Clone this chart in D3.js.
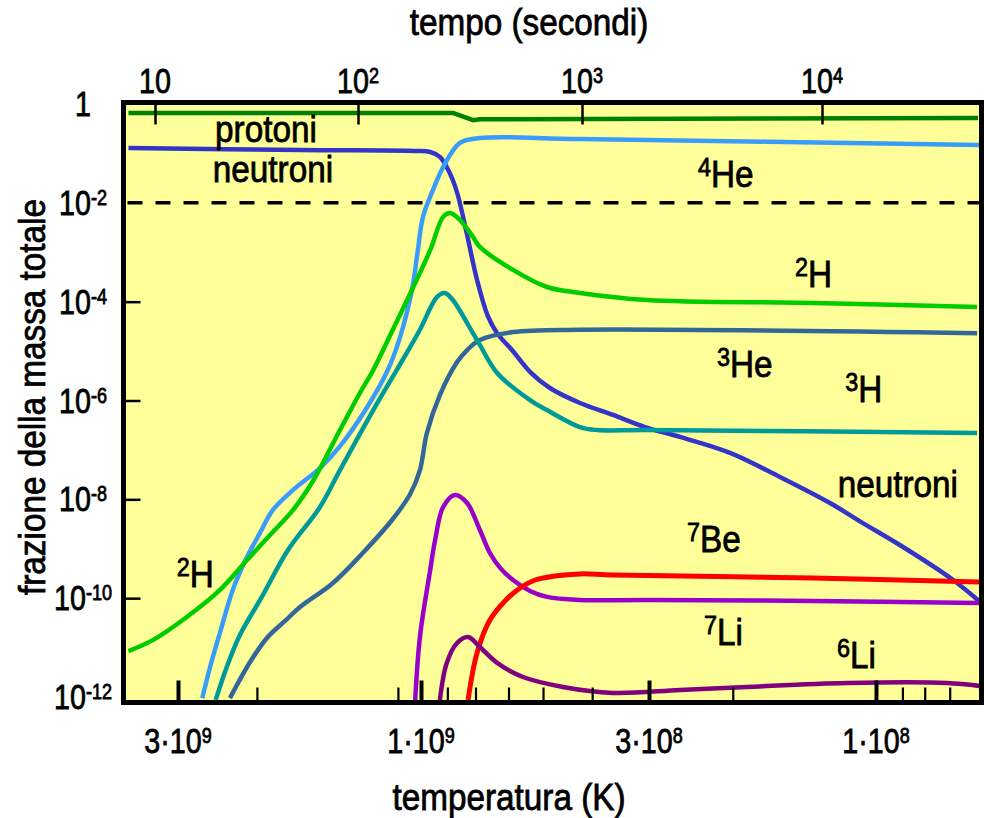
<!DOCTYPE html>
<html><head><meta charset="utf-8">
<script src="https://cdn.jsdelivr.net/npm/d3@7/dist/d3.min.js"></script>
<style>
body{margin:0;background:#fff;}
text{font-family:"Liberation Sans", Arial, Helvetica, sans-serif; fill:#000; stroke:#000; stroke-width:0.8px;}
</style></head><body>
<svg id="chart" width="984" height="818"></svg>
<script>
// ---------- data ----------
const timeTicks = [10, 100, 1000, 10000];
const timeTickBase = ["10", "10", "10", "10"];
const timeTickExp = ["", "2", "3", "4"];
const tempMajorTicks = [3e9, 1e9, 3e8, 1e8];
const tempMajorBase = ["3·10", "1·10", "3·10", "1·10"];
const tempMajorExp = ["9", "9", "8", "8"];
const tempMinorTicks = [2.1e9, 1.11e9, 8.7e8, 7.5e8, 6.3e8, 5.25e8, 4.05e8, 2e8, 8.8e7, 7.9e7, 7e7];
const fracTicks = [1, 1e-2, 1e-4, 1e-6, 1e-8, 1e-10, 1e-12];
const fracTickBase = ["1", "10", "10", "10", "10", "10", "10"];
const fracTickExp = ["", "-2", "-4", "-6", "-8", "-10", "-12"];
const fracInnerTicks = [1e-4, 1e-6, 1e-8, 1e-10];
const dashedLevel = [1e-2];

// [time (s), mass fraction]
const protoni = [[7.4,0.66],[265,0.66],[326,0.47],[350,0.49],[44700,0.52]];
const neutroni = [[7.4,0.129],[52,0.117],[180,0.112],[210,0.107],[232,0.085],[249,0.053],[265,0.029],[279,0.0144],[307,2.23e-3],[340,2.75e-4],[380,5.1e-5],[418,2.3e-5],[487,1.05e-5],[586,3.8e-6],[719,1.79e-6],[980,8.9e-7],[1346,5.1e-7],[1830,2.9e-7],[2560,1.83e-7],[4140,8.7e-8],[6680,2.83e-8],[10800,8.4e-9],[14800,3.3e-9],[21100,1.19e-9],[35200,2.33e-10],[45500,8.4e-11]];
const he4 = [[17.1,9.5e-13],[18.7,4.1e-12],[20.9,2.0e-11],[24.2,1.5e-10],[28.4,6.8e-10],[32.9,2.1e-9],[38.1,6.1e-9],[47.9,1.55e-8],[65,4.3e-8],[81,1.15e-7],[110,7.4e-7],[136,4.2e-6],[154,1.9e-5],[174,1.7e-4],[185,1.1e-3],[195,5.2e-3],[216,0.018],[240,0.053],[285,0.163],[350,0.205],[980,0.196],[45500,0.148]];
const h2 = [[7.4,8.5e-12],[9.8,1.43e-11],[14.4,4.2e-11],[20.9,1.47e-10],[28.4,5.9e-10],[36.9,1.9e-9],[47.9,6.1e-9],[60,2.35e-8],[81.5,2.53e-7],[102,1.42e-6],[117,4.15e-6],[143,2.7e-5],[174,1.72e-4],[210,1.1e-3],[240,5.2e-3],[258,6.2e-3],[285,4.5e-3],[326,2.04e-3],[350,1.28e-3],[492,4.4e-4],[698,1.98e-4],[980,1.5e-4],[1865,1.08e-4],[9170,9.4e-5],[44300,7.8e-5]];
const h3 = [[19.9,8.7e-13],[22.6,4.1e-12],[26.2,1.8e-11],[33.6,1.06e-10],[45.2,9.4e-10],[65,7.0e-9],[81.5,3.9e-8],[117,6.4e-7],[149,4.15e-6],[189,2.7e-5],[225,1.24e-4],[244,1.5e-4],[265,1.08e-4],[326,2.3e-5],[350,1.33e-5],[418,3.6e-6],[586,1.02e-6],[698,6.4e-7],[980,2.9e-7],[1155,2.53e-7],[1865,2.53e-7],[44300,2.2e-7]];
const he3 = [[23.4,9.5e-13],[29.4,5.1e-12],[35.6,1.57e-11],[43.7,3.46e-11],[51.8,6.6e-11],[75.3,2.03e-10],[105,8.2e-10],[143,4.0e-9],[171,1.28e-8],[189,3.9e-8],[203,2.2e-7],[232,1.29e-6],[277,6.0e-6],[307,1.05e-5],[350,1.68e-5],[492,2.43e-5],[980,2.7e-5],[44300,2.3e-5]];
const li7 = [[180,8.7e-13],[189,1.64e-11],[210,3.7e-10],[221,1.51e-9],[240,7.0e-9],[271,1.22e-8],[307,8.4e-9],[350,2.4e-9],[388,8.2e-10],[431,4.1e-10],[492,2.33e-10],[586,1.4e-10],[698,1.06e-10],[980,9.2e-11],[1865,9.2e-11],[9170,8.8e-11],[45500,8.0e-11]];
const be7 = [[310,8.7e-13],[340,7.8e-12],[388,3.6e-11],[453,8.8e-11],[529,1.61e-10],[617,2.33e-10],[757,2.81e-10],[980,3.1e-10],[1346,2.95e-10],[9170,2.56e-10],[45500,2.13e-10]];
const li6 = [[232,8.7e-13],[249,4.9e-12],[277,1.24e-11],[310,1.64e-11],[350,1.03e-11],[418,4.9e-12],[545,2.54e-12],[822,1.6e-12],[1346,1.21e-12],[2560,1.39e-12],[4870,1.6e-12],[12700,1.92e-12],[33200,1.92e-12],[45500,1.67e-12]];

const seriesNames = ["protoni","neutroni","4He","2H","3He","3H","7Li","7Be","6Li"];
const seriesData = [protoni, neutroni, he4, h2, he3, h3, li7, be7, li6];
const seriesColors = ["#007f00","#3434c8","#3a9cfa","#00cc00","#336699","#009999","#9900cc","#ff0000","#800080"];

const labelText = ["protoni","neutroni","He","H","He","H","neutroni","Be","Li","Li","H"];
const labelSup  = ["","","4","2","3","3","","7","7","6","2"];
const labelTime = [35.2, 38.1, 3040, 7720, 3650, 12500, 20700, 2740, 3220, 11550, 12.8];
const labelFrac = [0.17, 0.0264, 0.0209, 1.98e-4, 3.0e-6, 9.3e-7, 1.12e-8, 8.6e-10, 1.13e-11, 3.9e-12, 1.69e-10];
const labelAnchor = ["middle","middle","start","start","start","start","middle","start","start","start","start"];

// ---------- layout ----------
const svg = d3.select("#chart");
const frame = {left:123.5, top:102.5, right:981.5, bottom:702.5};

const x = d3.scaleLog().domain(timeTicks).range([155, 358, 582, 822]);
const xT = d3.scaleLog().domain(tempMajorTicks).range([178, 421, 649, 876]);
const y = d3.scaleLog().domain([1e-12, 1]).range([697, 104]);

svg.append("rect").attr("x",frame.left).attr("y",frame.top)
  .attr("width",frame.right-frame.left).attr("height",frame.bottom-frame.top)
  .attr("fill","#ffff99");

svg.append("clipPath").attr("id","clip").append("rect")
  .attr("x",frame.left+2.5).attr("y",frame.top+2.5)
  .attr("width",frame.right-frame.left-5).attr("height",frame.bottom-frame.top-5);

const plot = svg.append("g").attr("clip-path","url(#clip)");

// dashed reference line
plot.selectAll("line.dash").data(dashedLevel).join("line")
  .attr("x1", frame.left+4).attr("x2", frame.right-2)
  .attr("y1", d=>y(d)).attr("y2", d=>y(d))
  .attr("stroke","#000").attr("stroke-width",3.5).attr("stroke-dasharray","15 13");

const line = d3.line().x(d=>x(d[0])).y(d=>y(d[1])).curve(d3.curveCatmullRom.alpha(0.5));
const lineLin = d3.line().x(d=>x(d[0])).y(d=>y(d[1]));

plot.selectAll("path.series").data(seriesData).join("path")
  .attr("class","series")
  .attr("d",(d,i)=> i===0 ? lineLin(d) : line(d))
  .attr("fill","none")
  .attr("stroke",(d,i)=>seriesColors[i])
  .attr("stroke-width",(d,i)=> i===7 ? 5 : 4.5)
  .attr("stroke-linejoin","round");

// ---------- axes ticks ----------
function styleAxis(g, w){
  g.select(".domain").remove();
  g.selectAll(".tick line").attr("stroke","#000").attr("stroke-width",w);
  g.selectAll(".tick text").remove();
}
svg.append("g").attr("transform",`translate(0,${frame.top})`)
  .call(d3.axisTop(x).tickValues(timeTicks).tickSize(-22).tickFormat(""))
  .call(g=>styleAxis(g,2.5));
svg.append("g").attr("transform",`translate(0,${frame.bottom})`)
  .call(d3.axisBottom(xT).tickValues(tempMajorTicks).tickSize(-22).tickFormat(""))
  .call(g=>styleAxis(g,4));
svg.append("g").attr("transform",`translate(0,${frame.bottom})`)
  .call(d3.axisBottom(xT).tickValues(tempMinorTicks).tickSize(-15).tickFormat(""))
  .call(g=>styleAxis(g,2.2));
svg.append("g").attr("transform",`translate(${frame.left},0)`)
  .call(d3.axisLeft(y).tickValues(fracInnerTicks).tickSize(-17).tickFormat(""))
  .call(g=>styleAxis(g,2.5));

// frame
svg.append("rect").attr("x",frame.left).attr("y",frame.top)
  .attr("width",frame.right-frame.left).attr("height",frame.bottom-frame.top)
  .attr("fill","none").attr("stroke","#000").attr("stroke-width",5);

// ---------- rich text helper ----------
function rich(g, px, py, parts, o){
  const grp = g.append("g").attr("transform",`translate(${px},${py}) scale(${o.sx},1)`);
  const t = grp.append("text").attr("text-anchor",o.anchor).style("font-size",o.size+"px");
  let cur = 0;
  parts.forEach(p=>{
    if(!p.t) return;
    const target = p.sup ? -o.raise : 0;
    t.append("tspan").text(p.t).attr("dy", target-cur)
      .style("font-size",(p.sup?o.supSize:o.size)+"px");
    cur = target;
  });
  return grp;
}

// top tick labels
timeTicks.forEach((v,i)=>{
  rich(svg, x(v), 93, [{t:timeTickBase[i]},{t:timeTickExp[i],sup:true}],
    {sx:0.82,size:35,supSize:22,raise:10,anchor:"middle"});
});
// bottom tick labels
tempMajorTicks.forEach((v,i)=>{
  rich(svg, xT(v), 753, [{t:tempMajorBase[i]},{t:tempMajorExp[i],sup:true}],
    {sx:0.82,size:35,supSize:22,raise:10,anchor:"middle"});
});
// left tick labels
fracTicks.forEach((v,i)=>{
  rich(svg, 83, y(v)+12, [{t:fracTickBase[i]},{t:fracTickExp[i],sup:true}],
    {sx:0.82,size:35,supSize:22,raise:10,anchor:"middle"});
});

// axis titles
rich(svg, 529, 35, [{t:"tempo (secondi)"}], {sx:0.9,size:37,anchor:"middle"});
rich(svg, 509, 810, [{t:"temperatura (K)"}], {sx:0.9,size:37,anchor:"middle"});
svg.append("g").attr("transform","translate(45,397) rotate(-90) scale(0.9,1)")
  .append("text").attr("text-anchor","middle").style("font-size","37px")
  .text("frazione della massa totale");

// in-plot labels
labelText.forEach((s,i)=>{
  rich(svg, x(labelTime[i]), y(labelFrac[i]),
    [{t:labelSup[i],sup:true},{t:s}],
    {sx:0.9,size:37,supSize:26,raise:11,anchor:labelAnchor[i]});
});
</script>
</body></html>
